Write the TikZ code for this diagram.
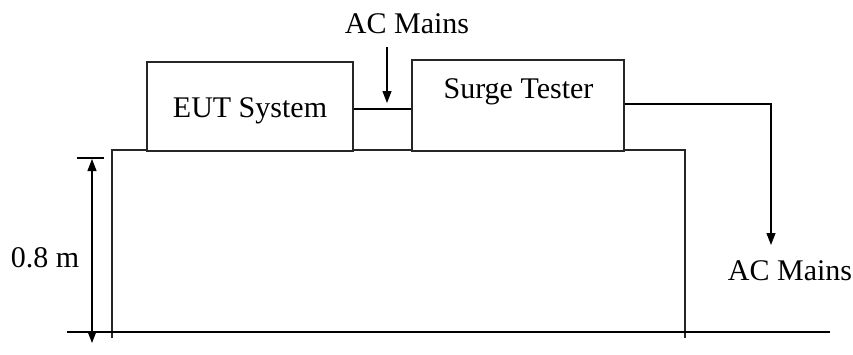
\documentclass[tikz,border=0pt]{standalone}
\usepackage{fontspec}
\setmainfont{Liberation Serif}
\usetikzlibrary{arrows.meta}
\begin{document}
\begin{tikzpicture}[x=1pt,y=-1pt,
  ln/.style={line width=1.3pt,draw=black!85},
  arr/.style={line width=1.1pt,-{Triangle[length=12pt,width=9pt]}},
  dimarr/.style={line width=1.1pt,{Triangle[length=12pt,width=9pt]}-{Triangle[length=12pt,width=9pt]}},
  boxnode/.style={draw=black!85,line width=1.4pt,fill=white,inner sep=0pt},
  lbl/.style={font=\fontsize{30}{36}\selectfont,inner sep=0pt}]
\useasboundingbox (0,0) rectangle (853,354);
% table and floor
\coordinate (tl) at (112,338);
\coordinate (tr) at (685,338);
\draw[ln] (tl) -- (112,150) -- (685,150) -- (tr);
\draw[line width=1.1pt] (67,332) -- (830,332);
% boxes
\node[boxnode,minimum width=206pt,minimum height=89pt] (eut) at (250,106.5) {};
\node[lbl,anchor=base] (eutt) at (250,117) {EUT System};
\node[boxnode,minimum width=212pt,minimum height=91pt] (surge) at (518,105.5) {};
\node[lbl,anchor=base] (surget) at (518.5,98) {Surge Tester};
% labels
\node[lbl,anchor=base] (actop) at (407,33) {AC Mains};
\node[lbl,anchor=base] (acr) at (790,280) {AC Mains};
\node[lbl,anchor=base] (dim) at (45,267) {0.8 m};
% connectors
\coordinate (j1) at (387,109);
\draw[line width=1.1pt] (eut.east |- j1) -- (surge.west |- j1);
\draw[arr] (387,47) -- ([yshift=6pt]j1);
\coordinate (c1) at (771,104);
\draw[arr] (surge.east |- c1) -- (c1) -- (771,245);
% dimension
\draw[line width=1.1pt] (77,158) -- (104,158);
\draw[dimarr] (92,159) -- (92,343);
\end{tikzpicture}
\end{document}
